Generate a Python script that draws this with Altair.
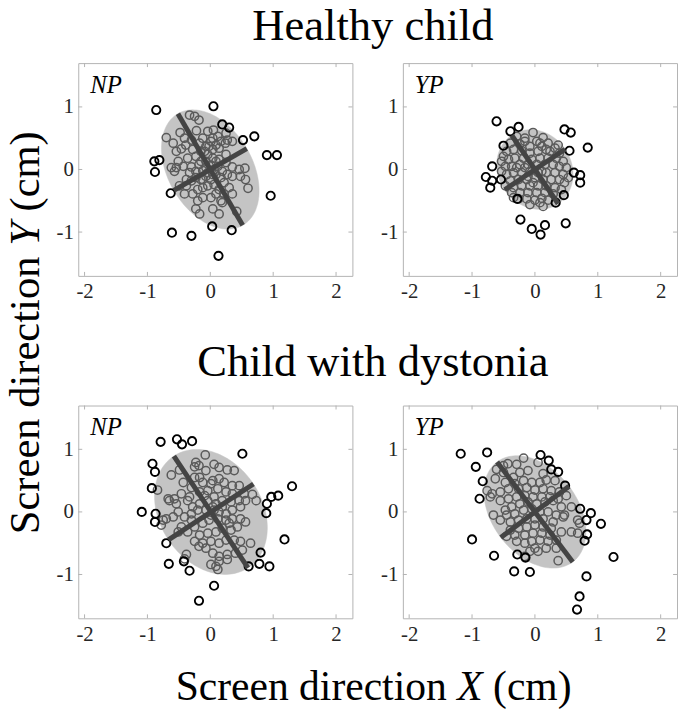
import numpy as np
import pandas as pd
import altair as alt

# ---------------- data ----------------
PANEL_LABELS = ["NP", "YP", "NP", "YP"]
ROW_TITLES = ["Healthy child", "Child with dystonia"]
X_TICKS = [-2, -1, 0, 1, 2]
Y_TICKS = [-1, 0, 1]

# ellipse parameters per panel: centre, semi-axes, orientation (deg)
ELL_CX = [0.0, 0.0, 0.01, 0.0]
ELL_CY = [0.0, 0.0, 0.0, 0.0]
ELL_A = [1.03, 0.66, 1.07, 1.00]
ELL_B = [0.67, 0.58, 0.81, 0.68]
ELL_ANG = [120.0, 124.0, 123.4, 127.0]

GRAY_X1 = [-0.33,-0.25,-0.18,-0.22,-0.48,-0.70,-0.59,-0.39,-0.54,-0.46,
           -0.30,-0.12,-0.04,0.05,0.12,0.25,0.35,0.24,0.14,0.01,
           -0.07,-0.15,-0.23,-0.36,-0.51,-0.62,-0.54,-0.43,-0.30,-0.18,
           -0.07,0.04,0.14,0.25,0.35,0.46,0.55,0.48,0.56,0.60,
           0.35,0.27,0.19,0.09,0.01,-0.07,-0.15,-0.23,-0.30,-0.38,
           -0.49,-0.41,-0.28,-0.20,-0.12,-0.04,0.06,0.14,0.09,0.01,
           -0.12,-0.20,-0.23,-0.17,0.04,0.14,0.17,0.22,0.30,0.22,
           0.35,0.19,0.42,-0.07,0.01,0.06,-0.12,-0.04,0.04,0.12,
           -0.15,-0.23,-0.33,0.09,0.17,-0.09,-0.02,0.04,0.09,0.17,
           0.27,0.04,-0.38,-0.57,-0.28,-0.17,-0.41,-0.04,-0.12,0.25]
GRAY_Y1 = [0.87,0.85,0.79,0.62,0.59,0.51,0.42,0.39,0.29,0.33,
           0.47,0.50,0.61,0.63,0.53,0.58,0.45,0.42,0.34,0.45,
           0.37,0.29,0.21,0.18,0.13,0.03,0.03,0.05,0.04,0.08,
           0.13,0.18,0.16,0.11,0.04,0.00,0.02,-0.11,-0.16,-0.30,
           -0.11,-0.08,-0.03,-0.08,-0.16,-0.11,-0.16,-0.13,-0.18,-0.16,
           -0.26,-0.39,-0.39,-0.32,-0.29,-0.26,-0.24,-0.32,-0.39,-0.45,
           -0.45,-0.50,-0.63,-0.71,-0.63,-0.71,-0.50,-0.39,-0.29,-0.21,
           -0.39,-0.53,-0.67,0.03,0.07,0.00,-0.02,-0.05,-0.08,0.05,
           0.13,-0.03,-0.05,0.13,-0.13,0.29,0.37,0.32,0.39,0.45,
           0.47,0.50,-0.26,-0.03,0.32,0.42,0.50,0.24,-0.16,0.24]
BLACK_X1 = [-0.86,0.05,0.19,0.30,0.52,0.70,0.90,1.06,0.96,0.34,0.03,0.13,-0.30,-0.61,-0.63,-0.88,-0.89,-0.81]
BLACK_Y1 = [0.95,1.01,0.72,0.67,0.47,0.53,0.23,0.23,-0.42,-0.97,-0.91,-1.38,-1.06,-1.01,-0.38,-0.04,0.13,0.15]

GRAY_X2 = [-0.03,0.13,-0.16,-0.24,-0.08,0.08,0.21,0.32,0.39,0.18,
           0.05,-0.08,-0.21,-0.34,-0.45,-0.50,-0.42,-0.32,-0.18,-0.05,
           0.08,0.21,0.34,0.45,0.50,0.39,0.29,0.16,0.03,-0.11,
           -0.24,-0.37,-0.47,-0.53,-0.45,-0.34,-0.21,-0.08,0.05,0.18,
           0.32,0.45,0.53,0.39,0.26,0.13,0.00,-0.13,-0.26,-0.39,
           -0.47,-0.34,-0.21,-0.08,0.05,0.18,0.32,0.42,0.29,0.16,
           0.03,-0.11,-0.24,-0.37,-0.26,-0.13,0.00,0.11,0.21,-0.08,
           0.08,-0.16,-0.29,0.03,0.24,0.37,-0.39,-0.53,0.47,-0.34,
           0.11,-0.11,-0.03,0.11,-0.16,-0.29,0.13]
GRAY_Y2 = [0.59,0.51,0.45,0.41,0.37,0.42,0.42,0.34,0.26,0.32,
           0.29,0.26,0.30,0.32,0.29,0.21,0.16,0.18,0.18,0.16,
           0.18,0.18,0.18,0.13,0.03,0.05,0.08,0.08,0.08,0.08,
           0.08,0.05,0.05,-0.03,-0.08,-0.05,-0.05,-0.03,-0.05,-0.05,
           -0.05,-0.08,-0.13,-0.16,-0.16,-0.16,-0.13,-0.16,-0.16,-0.18,
           -0.26,-0.29,-0.26,-0.26,-0.26,-0.26,-0.29,-0.32,-0.39,-0.37,
           -0.37,-0.37,-0.37,-0.37,-0.47,-0.47,-0.49,-0.46,-0.49,-0.56,
           -0.53,0.50,0.53,0.45,0.29,0.39,0.42,0.13,-0.21,-0.45,
           0.37,-0.11,-0.21,-0.03,0.03,0.03,-0.59]
BLACK_X2 = [-0.61,-0.39,-0.26,-0.50,0.47,0.57,0.55,0.84,0.62,0.72,0.72,0.46,0.33,0.49,0.16,-0.05,0.09,-0.23,-0.68,-0.78,-0.68,-0.71,-0.54,-0.28]
BLACK_Y2 = [0.77,0.61,0.68,0.38,0.64,0.59,0.30,0.35,-0.05,-0.09,-0.21,-0.41,-0.53,-0.86,-0.89,-0.95,-1.04,-0.80,0.05,-0.12,-0.18,-0.29,-0.16,-0.47]

GRAY_X3 = [-0.08,-0.23,-0.25,0.06,-0.07,-0.17,-0.25,-0.49,-0.62,-0.84,
           -0.43,-0.30,-0.12,0.04,0.14,0.27,0.38,0.46,0.35,0.25,
           0.12,0.01,-0.04,-0.17,-0.33,-0.46,-0.57,-0.67,-0.51,-0.59,
           -0.70,-0.78,-0.36,-0.28,-0.17,-0.04,0.06,0.19,0.33,0.46,
           0.56,0.67,0.73,0.48,0.35,0.25,0.14,0.04,-0.07,-0.20,
           -0.30,-0.41,-0.51,-0.46,-0.36,-0.25,-0.12,-0.02,0.12,0.25,
           0.35,0.48,0.56,0.43,0.33,0.19,0.09,-0.04,-0.17,-0.25,
           -0.12,0.01,0.14,0.25,0.38,0.48,0.64,0.51,0.40,0.27,
           0.14,0.04,-0.07,-0.18,0.09,0.14,0.27,0.01,0.12,-0.38,
           -0.41,0.22,0.06,-0.75,-0.65,0.35,0.54,-0.09,0.09,0.01,
           0.19,0.30,-0.30,-0.54,-0.18,0.14]
GRAY_Y3 = [0.91,0.79,0.72,0.76,0.66,0.55,0.55,0.67,0.59,0.35,
           0.47,0.39,0.47,0.50,0.53,0.67,0.66,0.42,0.29,0.32,
           0.37,0.45,0.34,0.32,0.24,0.29,0.21,0.21,0.00,-0.08,
           -0.11,-0.21,0.18,0.08,0.13,0.18,0.24,0.18,0.16,0.18,
           0.18,0.28,0.18,0.08,0.03,-0.03,0.00,0.08,0.03,0.03,
           -0.03,-0.08,-0.32,-0.24,-0.32,-0.24,-0.18,-0.13,-0.11,-0.13,
           -0.11,-0.11,-0.16,-0.24,-0.29,-0.26,-0.32,-0.34,-0.37,-0.47,
           -0.50,-0.47,-0.50,-0.45,-0.45,-0.47,-0.50,-0.61,-0.66,-0.68,
           -0.71,-0.66,-0.58,-0.55,-0.87,-0.79,-0.76,-0.84,-0.92,-0.68,
           -0.75,0.47,0.03,-0.13,0.18,0.42,0.29,0.26,0.13,-0.05,
           0.08,-0.18,-0.13,0.13,0.74,0.71]
BLACK_X3 = [-0.79,-0.53,-0.45,-0.29,0.51,-0.92,-0.88,-0.93,-1.09,-0.87,-0.88,-0.70,-0.66,-0.42,-0.33,0.06,-0.18,0.61,0.78,0.94,0.80,1.18,0.89,0.90,0.97,1.08,1.30]
BLACK_Y3 = [1.12,1.16,1.08,1.13,0.93,0.77,0.64,0.38,0.00,-0.03,-0.16,-0.50,-0.83,-0.79,-0.94,-1.18,-1.42,-0.87,-0.83,-0.87,-0.65,-0.44,-0.02,0.13,0.24,0.26,0.41]

GRAY_X4 = [-0.43,-0.29,-0.18,-0.61,-0.50,-0.34,-0.24,-0.11,0.05,0.13,
           0.18,0.32,0.08,-0.05,-0.18,-0.32,-0.47,-0.63,-0.76,-0.68,
           -0.55,-0.42,-0.26,-0.13,0.00,0.13,0.26,0.39,0.50,0.37,
           0.24,0.11,-0.03,-0.16,-0.29,-0.42,-0.55,-0.71,-0.47,-0.37,
           -0.24,-0.11,0.03,0.16,0.29,0.42,0.58,0.47,0.34,0.21,
           0.08,-0.05,-0.18,-0.32,-0.45,-0.66,-0.55,-0.39,-0.26,-0.13,
           0.00,0.13,0.29,0.45,0.68,0.71,0.58,0.42,0.26,0.13,
           0.00,-0.13,-0.26,-0.39,-0.45,-0.32,-0.16,-0.03,0.11,0.24,
           0.34,0.21,0.08,-0.05,-0.16,-0.29,0.00,0.05,-0.08,0.18,
           0.34,0.37,0.68,-0.50,-0.16]
GRAY_Y4 = [0.77,0.76,0.86,0.68,0.63,0.55,0.63,0.66,0.79,0.61,
           0.51,0.50,0.47,0.47,0.50,0.45,0.47,0.53,0.34,0.29,
           0.32,0.37,0.37,0.39,0.35,0.37,0.34,0.32,0.26,0.21,
           0.24,0.24,0.24,0.26,0.24,0.21,0.18,0.24,0.03,0.08,
           0.13,0.16,0.13,0.16,0.18,0.08,0.08,-0.05,-0.05,0.00,
           0.00,0.05,0.03,-0.03,-0.05,-0.05,-0.13,-0.16,-0.13,-0.11,
           -0.11,-0.11,-0.16,-0.08,-0.13,-0.18,-0.32,-0.32,-0.26,-0.24,
           -0.21,-0.24,-0.26,-0.29,-0.39,-0.37,-0.37,-0.34,-0.34,-0.37,
           -0.45,-0.47,-0.45,-0.47,-0.50,-0.47,-0.58,-0.63,-0.63,-0.58,
           -0.58,-0.78,-0.34,0.74,-0.71]
BLACK_X4 = [-1.18,-0.76,-0.94,-0.83,-0.88,0.09,0.22,0.26,0.37,0.48,0.89,1.05,0.82,0.83,0.79,1.25,0.82,0.71,0.67,-0.08,-0.33,-0.15,-0.28,-0.65,-1.00,0.72]
BLACK_Y4 = [0.93,0.95,0.72,0.49,0.21,0.91,0.82,0.68,0.64,0.42,-0.02,-0.19,-0.13,-0.36,-0.46,-0.72,-1.03,-1.35,-1.56,-0.96,-0.95,-0.73,-0.68,-0.70,-0.44,0.05]

GRAY_X = [GRAY_X1, GRAY_X2, GRAY_X3, GRAY_X4]
GRAY_Y = [GRAY_Y1, GRAY_Y2, GRAY_Y3, GRAY_Y4]
BLACK_X = [BLACK_X1, BLACK_X2, BLACK_X3, BLACK_X4]
BLACK_Y = [BLACK_Y1, BLACK_Y2, BLACK_Y3, BLACK_Y4]

# ---------------- style ----------------
FONT = "Liberation Serif"
W, H = 277, 215
XDOM = [-2.1, 2.26]
YDOM = [-1.7, 1.7]
FRAME = "#b3b3b3"
ELL_FILL = "#c4c4c4"
AX_COL = "#444444"
GRAY_PT = "#5a5a5a"
BLACK_PT = "#000000"

XS = alt.Scale(domain=XDOM, nice=False, zero=False)
YS = alt.Scale(domain=YDOM, nice=False, zero=False)
XAX = alt.Axis(values=X_TICKS, labelExpr="'' + datum.value", grid=False, ticks=False,
               domain=False, labelPadding=5, labelFlush=False, labelOverlap=False)
YAX = alt.Axis(values=Y_TICKS, labelExpr="'' + datum.value", grid=False, ticks=False,
               domain=False, labelPadding=5, labelFlush=False, labelOverlap=False)


def X(f):
    return alt.X(f"{f}:Q", scale=XS, axis=XAX, title=None)


def Y(f):
    return alt.Y(f"{f}:Q", scale=YS, axis=YAX, title=None)


ONE = pd.DataFrame({"k": [0]})


def txt(s, x, y, size, italic=False, align="left", angle=0):
    m = dict(text=s, font=FONT, fontSize=size, align=align, baseline="alphabetic", color="#000000")
    if italic:
        m["fontStyle"] = "italic"
    if angle:
        m["angle"] = angle
    return alt.Chart(ONE).mark_text(**m).encode(x=alt.value(x), y=alt.value(y))


def ellipse_df(i):
    t = np.linspace(0, 2 * np.pi, 145)
    th = np.deg2rad(ELL_ANG[i])
    a, b = ELL_A[i], ELL_B[i]
    ex = ELL_CX[i] + a * np.cos(t) * np.cos(th) - b * np.sin(t) * np.sin(th)
    ey = ELL_CY[i] + a * np.cos(t) * np.sin(th) + b * np.sin(t) * np.cos(th)
    return pd.DataFrame({"x": ex, "y": ey, "k": np.arange(len(t))})


def axes_df(i):
    th = np.deg2rad(ELL_ANG[i])
    a, b = ELL_A[i], ELL_B[i]
    cx, cy = ELL_CX[i], ELL_CY[i]
    c, s = np.cos(th), np.sin(th)
    return pd.DataFrame({
        "x": [cx - a * c, cx + b * s],
        "y": [cy - a * s, cy - b * c],
        "x2": [cx + a * c, cx - b * s],
        "y2": [cy + a * s, cy + b * c],
    })


XT = pd.DataFrame({"v": X_TICKS})
YT = pd.DataFrame({"v": Y_TICKS})


def panel(i, extra=()):
    gray = pd.DataFrame({"x": GRAY_X[i], "y": GRAY_Y[i]})
    black = pd.DataFrame({"x": BLACK_X[i], "y": BLACK_Y[i]})
    layers = [
        alt.Chart(ellipse_df(i)).mark_line(fill=ELL_FILL, color=ELL_FILL, strokeWidth=0.5)
        .encode(x=X("x"), y=Y("y"), order=alt.Order("k:Q")),
        alt.Chart(gray).mark_point(shape="circle", filled=False, size=70, strokeWidth=1.5,
                                   color=GRAY_PT, opacity=1).encode(x=X("x"), y=Y("y")),
        alt.Chart(black).mark_point(shape="circle", filled=False, size=70, strokeWidth=1.9,
                                    color=BLACK_PT, opacity=1).encode(x=X("x"), y=Y("y")),
        alt.Chart(axes_df(i)).mark_rule(color=AX_COL, strokeWidth=5)
        .encode(x=X("x"), y=Y("y"), x2="x2:Q", y2="y2:Q"),
        alt.Chart(XT).mark_rule(color=FRAME, strokeWidth=1)
        .encode(x=X("v"), y=alt.value(0), y2=alt.value(4)),
        alt.Chart(XT).mark_rule(color=FRAME, strokeWidth=1)
        .encode(x=X("v"), y=alt.value(H), y2=alt.value(H - 4)),
        alt.Chart(YT).mark_rule(color=FRAME, strokeWidth=1)
        .encode(y=Y("v"), x=alt.value(0), x2=alt.value(4)),
        alt.Chart(YT).mark_rule(color=FRAME, strokeWidth=1)
        .encode(y=Y("v"), x=alt.value(W), x2=alt.value(W - 4)),
        txt(PANEL_LABELS[i], 12, 30, 25, italic=True),
    ]
    layers += list(extra)
    return alt.layer(*layers).properties(width=W, height=H)


# shared titles, placed relative to the top-left / bottom-left panels
FY = 43
y0 = 476.0
ytitle = [
    txt("Screen direction", -40, y0, FY, angle=270),
    txt("Y", -40, y0 - (6.526 + 0.25) * FY, FY, italic=True, angle=270),
    txt("(cm)", -40, y0 - (6.526 + 0.25 + 0.556 + 0.25) * FY, FY, angle=270),
]
FX = 42
x0 = 98.4
xtitle = [
    txt("Screen direction", x0, 297.7, FX),
    txt("X", x0 + (6.526 + 0.25) * FX, 297.7, FX, italic=True),
    txt("(cm)", x0 + (6.526 + 0.25 + 0.611 + 0.25) * FX, 297.7, FX),
]

p1 = panel(0, [txt(ROW_TITLES[0], 297.7, -23, 45, align="center")] + ytitle)
p2 = panel(1)
p3 = panel(2, [txt(ROW_TITLES[1], 297.7, -30, 45, align="center")] + xtitle)
p4 = panel(3)

chart = (
    alt.concat(p1, p2, p3, p4, columns=2,
               spacing=alt.RowColnumber(row=131, column=51), bounds="flush")
    .properties(padding={"left": -4, "top": -8, "right": 0, "bottom": 0})
    .configure(font=FONT)
    .configure_axis(labelFont=FONT, labelFontSize=21, labelColor="#262626")
    .configure_view(stroke=FRAME, strokeWidth=1)
)

chart.save("out.html", embed_options={"renderer": "svg", "actions": False})
